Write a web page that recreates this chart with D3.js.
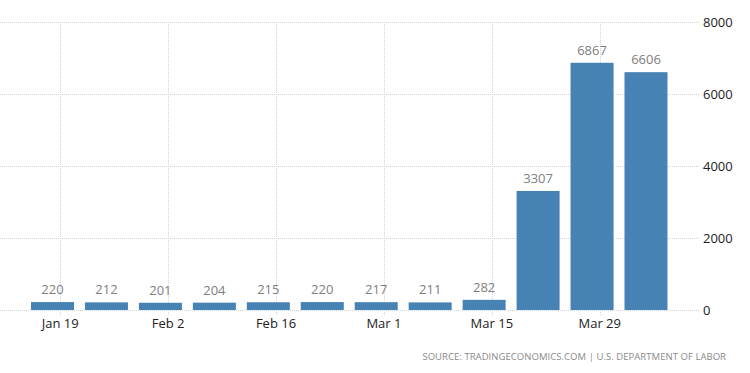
<!DOCTYPE html>
<html lang="en">
<head>
<meta charset="utf-8">
<title>Initial Jobless Claims</title>
<script src="https://cdn.jsdelivr.net/npm/d3@7"></script>
<style>
  body { margin: 0; background: #fff; }
  svg { display: block; font-family: "Open Sans", "Noto Sans", sans-serif; }
</style>
</head>
<body>
<script>
// week ending dates and values (thousands)
let weeks = ["2020-01-18", "2020-01-25", "2020-02-01", "2020-02-08", "2020-02-15", "2020-02-22",
             "2020-02-29", "2020-03-07", "2020-03-14", "2020-03-21", "2020-03-28", "2020-04-04"];
let claims = [220, 212, 201, 204, 215, 220, 217, 211, 282, 3307, 6867, 6606];
let tickDates = ["2020-01-19", "2020-02-02", "2020-02-16", "2020-03-01", "2020-03-15", "2020-03-29"];
let tickLabels = ["Jan 19", "Feb 2", "Feb 16", "Mar 1", "Mar 15", "Mar 29"];
let yTicks = [0, 2000, 4000, 6000, 8000];
let source = "SOURCE: TRADINGECONOMICS.COM | U.S. DEPARTMENT OF LABOR";

let w = 750;
let h = 373;
let parse = d3.utcParse("%Y-%m-%d");

let dataset = weeks.map((d, i) => ({ date: parse(d), value: claims[i] }));

let xScale = d3.scaleUtc()
  .domain([parse(weeks[0]), parse(weeks[weeks.length - 1])])
  .range([52.5, 646]);

let yScale = d3.scaleLinear()
  .domain([0, 8000])
  .range([310, 22]);

let barW = 43;

let svg = d3.select("body")
  .append("svg")
  .attr("width", w)
  .attr("height", h);

// horizontal grid
svg.append("g")
  .selectAll("line")
  .data(yTicks)
  .enter()
  .append("line")
  .attr("x1", 0)
  .attr("x2", 699)
  .attr("y1", d => Math.round(yScale(d)) + 0.5)
  .attr("y2", d => Math.round(yScale(d)) + 0.5)
  .attr("stroke", "#d4d4d4")
  .attr("stroke-dasharray", "1,1");

// vertical grid at date ticks
svg.append("g")
  .selectAll("line")
  .data(tickDates)
  .enter()
  .append("line")
  .attr("x1", d => Math.round(xScale(parse(d))) + 0.5)
  .attr("x2", d => Math.round(xScale(parse(d))) + 0.5)
  .attr("y1", yScale(8000))
  .attr("y2", yScale(0) + 5)
  .attr("stroke", "#d4d4d4")
  .attr("stroke-dasharray", "1,1");

// bars
svg.append("g")
  .selectAll("rect")
  .data(dataset)
  .enter()
  .append("rect")
  .attr("x", d => xScale(d.date) - barW / 2)
  .attr("y", d => yScale(d.value))
  .attr("width", barW)
  .attr("height", d => yScale(0) - yScale(d.value))
  .attr("fill", "#4682b4");

// value labels
svg.append("g")
  .selectAll("text")
  .data(dataset)
  .enter()
  .append("text")
  .text(d => d.value)
  .attr("x", d => xScale(d.date))
  .attr("y", d => yScale(d.value) - 8)
  .attr("text-anchor", "middle")
  .attr("font-size", "13px")
  .attr("fill", "#808080");

// x tick labels
svg.append("g")
  .selectAll("text")
  .data(tickDates)
  .enter()
  .append("text")
  .text((d, i) => tickLabels[i])
  .attr("x", d => xScale(parse(d)))
  .attr("y", 328)
  .attr("text-anchor", "middle")
  .attr("font-size", "13px")
  .attr("fill", "#222");

// y tick labels (right side)
svg.append("g")
  .selectAll("text")
  .data(yTicks)
  .enter()
  .append("text")
  .text(d => d)
  .attr("x", 703)
  .attr("y", d => yScale(d) + 5)
  .attr("font-size", "13px")
  .attr("fill", "#222");

svg.append("text")
  .text(source)
  .attr("x", 726)
  .attr("y", 360)
  .attr("text-anchor", "end")
  .attr("font-size", "9.5px")
  .attr("letter-spacing", "0.05px")
  .attr("fill", "#8a8a8a");
</script>
</body>
</html>
